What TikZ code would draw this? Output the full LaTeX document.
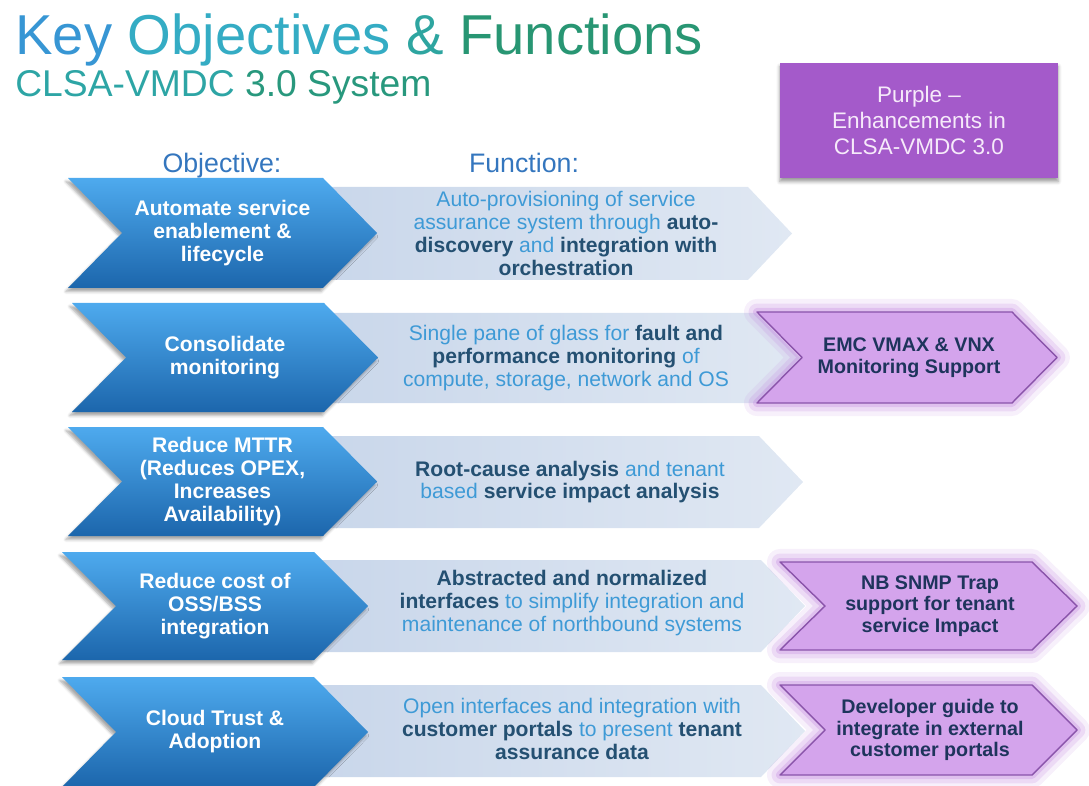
\documentclass[tikz,border=0pt]{standalone}
\usepackage{fontspec}
\setmainfont{Liberation Sans}
\usetikzlibrary{shadows.blur}

\definecolor{titleA}{RGB}{55,150,212}
\definecolor{titleB}{RGB}{52,172,196}
\definecolor{titleC}{RGB}{46,165,160}
\definecolor{titleD}{RGB}{40,150,115}
\definecolor{subA}{RGB}{45,165,165}
\definecolor{subB}{RGB}{40,152,125}
\definecolor{headblue}{RGB}{52,118,190}
\definecolor{objtop}{RGB}{78,170,238}
\definecolor{objbot}{RGB}{28,102,172}
\definecolor{funleft}{RGB}{200,214,234}
\definecolor{funright}{RGB}{224,232,243}
\definecolor{funlight}{RGB}{62,154,214}
\definecolor{fundark}{RGB}{36,80,114}
\definecolor{newfill}{RGB}{212,164,236}
\definecolor{newedge}{RGB}{138,84,170}
\definecolor{newglow}{RGB}{192,132,222}
\definecolor{newink}{RGB}{30,52,92}
\definecolor{legendfill}{RGB}{164,90,202}
\definecolor{legendink}{RGB}{246,234,250}

% arrow outline: [style] left, top, tip, bottom, depth
\newcommand{\chevron}[6][]{%
  \path[#1] (#2,#3) -- ({#4-#6},#3) -- (#4,{(#3+#5)/2}) -- ({#4-#6},#5)
    -- (#2,#5) -- ({#2+#6},{(#3+#5)/2}) -- cycle;}
\newcommand{\keyterm}[1]{\textcolor{fundark}{\bfseries #1}}

\tikzset{
  objshape/.style={top color=objtop, bottom color=objbot,
    blur shadow={shadow xshift=-1.5pt, shadow yshift=-2.5pt,
      shadow blur radius=2pt, shadow opacity=35}},
  funshape/.style={left color=funleft, right color=funright},
  newshape/.style={fill=newfill, draw=newedge, line width=1pt, line join=round,
    preaction={draw=newglow, line width=0.65cm, opacity=.12, line join=round},
    preaction={draw=newglow, line width=0.42cm, opacity=.2, line join=round},
    preaction={draw=newglow, line width=0.2cm, opacity=.3, line join=round}},
  objtext/.style={text=white, align=center,
    font=\bfseries\fontsize{15}{16.4}\selectfont},
  funtext/.style={text=funlight, align=center,
    font=\fontsize{15}{16.2}\selectfont},
  newtext/.style={text=newink, align=center,
    font=\bfseries\fontsize{14}{15.5}\selectfont},
  header/.style={text=headblue, anchor=base,
    font=\fontsize{19}{22}\selectfont},
}

\begin{document}
\begin{tikzpicture}[x=0.025cm,y=-0.025cm]
  \useasboundingbox (0,0) rectangle (1089,786);

  % Title
  \node[anchor=base west, inner sep=0pt, font=\fontsize{40}{48}\selectfont]
    (title) at (15,55) {\textcolor{titleA}{Key} \textcolor{titleB}{Objectives}
    \textcolor{titleC}{\&} \textcolor{titleD}{Functions}};
  \node[anchor=base west, inner sep=0pt, font=\fontsize{26.5}{32}\selectfont]
    (subtitle) at (15,97) {\textcolor{subA}{CLSA-VMDC} \textcolor{subB}{3.0 System}};

  % Column heads
  \node[header] (objhead) at (222,173) {Objective:};
  \node[header] (funhead) at (524,173) {Function:};

  % Function arrows
  \chevron[funshape]{300}{187}{792}{280}{44}
  \chevron[funshape]{300}{313}{800}{403}{44}
  \chevron[funshape]{300}{436}{803}{528}{44}
  \chevron[funshape]{300}{560}{805}{652}{44}
  \chevron[funshape]{300}{685}{805}{777}{44}

  % Objective chevrons
  \chevron[objshape]{68}{178}{377}{288}{54}
  \chevron[objshape]{72}{303}{378}{412}{54}
  \chevron[objshape]{68}{427}{377}{536}{54}
  \chevron[objshape]{62}{552}{368}{660}{54}
  \chevron[objshape]{62}{677}{368}{787}{54}

  \node[objtext] (obj1) at (222.5,233) {Automate service\\enablement \&\\lifecycle};
  \node[objtext] (obj2) at (225,357.5) {Consolidate\\monitoring};
  \node[objtext] (obj3) at (222.5,481.5) {Reduce MTTR\\(Reduces OPEX,\\Increases\\Availability)};
  \node[objtext] (obj4) at (215,606) {Reduce cost of\\OSS/BSS\\integration};
  \node[objtext] (obj5) at (215,732) {Cloud Trust \&\\Adoption};

  % Function texts
  \node[funtext] (fun1) at (566,233.5) {Auto-provisioning of service\\
    assurance system through \keyterm{auto-}\\
    \keyterm{discovery} and \keyterm{integration with}\\
    \keyterm{orchestration}};
  \node[funtext] (fun2) at (566,358) {Single pane of glass for \keyterm{fault and}\\
    \keyterm{performance monitoring} of\\
    compute, storage, network and OS};
  \node[funtext] (fun3) at (570,482) {\keyterm{Root-cause analysis} and tenant\\
    based \keyterm{service impact analysis}};
  \node[funtext] (fun4) at (572,603) {\keyterm{Abstracted and normalized}\\
    \keyterm{interfaces} to simplify integration and\\
    maintenance of northbound systems};
  \node[funtext] (fun5) at (572,729) {Open interfaces and integration with\\
    \keyterm{customer portals} to present \keyterm{tenant}\\
    \keyterm{assurance data}};

  % Enhancements (purple)
  \chevron[newshape]{757}{312}{1057}{403}{45}
  \chevron[newshape]{780}{562}{1077}{650}{45}
  \chevron[newshape]{780}{685}{1077}{775}{45}

  \node[newtext] (new2) at (909,357.5) {EMC VMAX \& VNX\\Monitoring Support};
  \node[newtext] (new4) at (930,606) {NB SNMP Trap\\support for tenant\\service Impact};
  \node[newtext] (new5) at (930,730) {Developer guide to\\integrate in external\\customer portals};

  % Legend
  \node[fill=legendfill, text=legendink, align=center,
        minimum width=6.95cm, minimum height=2.875cm, inner sep=0pt,
        font=\fontsize{16}{18.5}\selectfont,
        blur shadow={shadow xshift=0pt, shadow yshift=-2.5pt, shadow blur radius=2.5pt}]
    (legend) at (919,120.5) {Purple --\\Enhancements in\\CLSA-VMDC 3.0};
\end{tikzpicture}
\end{document}
